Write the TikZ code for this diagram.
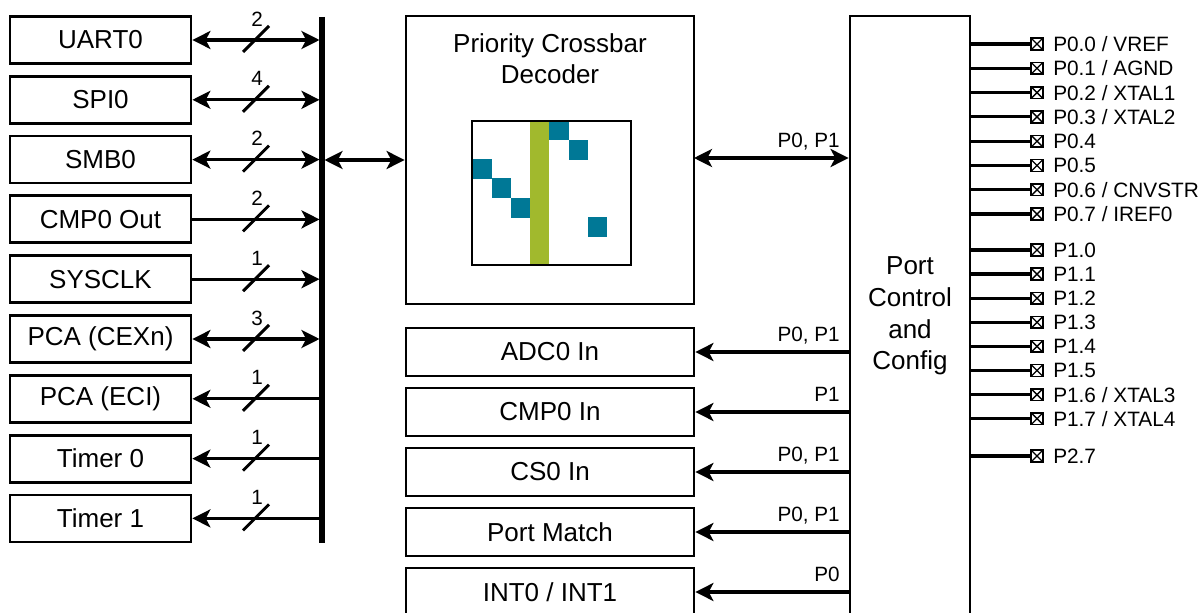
\documentclass[tikz,border=0pt]{standalone}
\usepackage{fontspec}
\setmainfont{Liberation Sans}
\usetikzlibrary{arrows.meta}
\definecolor{xbteal}{RGB}{0,120,150}
\definecolor{xbgreen}{RGB}{161,185,45}
\begin{document}
\begin{tikzpicture}[x=0.75pt,y=-0.75pt,
  >={Stealth[length=13.5pt,width=13.5pt,inset=3.5pt]},
  blk/.style={draw,line width=2.1pt,minimum width=135.75pt,minimum height=35.25pt,inner sep=0pt,
    font=\fontsize{19.5}{23}\selectfont},
  wblk/.style={blk,minimum width=216pt,minimum height=36pt},
  wire/.style={line width=2.4pt},
  small/.style={font=\fontsize{15.5}{18}\selectfont,inner sep=0pt},
  pinbox/.style={draw,line width=1.2pt,minimum size=8.8pt,inner sep=0pt,
    path picture={\draw[line width=1pt] (path picture bounding box.north west) -- (path picture bounding box.south east)
      (path picture bounding box.north east) -- (path picture bounding box.south west);}},
  pinlbl/.style={font=\fontsize{15.6}{18}\selectfont,inner sep=0pt,anchor=west}]
\useasboundingbox (0,0) rectangle (1204,613);
\clip (0,0) rectangle (1204,613);

% left peripheral blocks
\node[blk] (uart) at (100.5,40) {UART0};
\node[blk] (spi)  at (100.5,99.8) {SPI0};
\node[blk] (smb)  at (100.5,159.6) {SMB0};
\node[blk] (cmpo) at (100.5,219.4) {CMP0 Out};
\node[blk] (sysclk) at (100.5,279.2) {SYSCLK};
\node[blk] (cexn) at (100.5,339) {PCA (CEXn)};
\node[blk] (eci)  at (100.5,398.8) {PCA (ECI)};
\node[blk] (tmr0) at (100.5,458.6) {Timer 0};
\node[blk] (tmr1) at (100.5,518.4) {Timer 1};

% bus
\coordinate (bustop) at (322,17);
\coordinate (busbot) at (322,543);
\coordinate (busL) at (319.5,0);
\coordinate (busR) at (324.5,0);
\draw[line width=4.5pt] (bustop) -- (busbot);

\draw[wire,<->] (uart.east) -- (uart.east -| busL);
\draw[wire,<->] (spi.east) -- (spi.east -| busL);
\draw[wire,<->] (smb.east) -- (smb.east -| busL);
\draw[wire,->] (cmpo.east) -- (cmpo.east -| busL);
\draw[wire,->] (sysclk.east) -- (sysclk.east -| busL);
\draw[wire,<->] (cexn.east) -- (cexn.east -| busL);
\draw[wire,<-] (eci.east) -- (eci.east -| busL);
\draw[wire,<-] (tmr0.east) -- (tmr0.east -| busL);
\draw[wire,<-] (tmr1.east) -- (tmr1.east -| busL);

% bus-width marks
\foreach \yy/\w in {40/2,99.8/4,159.6/2,219.4/2,279.2/1,339/3,398.8/1,458.6/1,518.4/1}{
  \draw[line width=2.2pt] (243,\yy+12) -- (269,\yy-14);
  \node[small] at (257,\yy-21) {\w};
}

% crossbar
\node[draw,line width=2.1pt,minimum width=216pt,minimum height=216pt,inner sep=0pt] (xbar) at (550,160) {};
\node[font=\fontsize{19.5}{23.25}\selectfont,align=center,inner sep=0pt] (xbart) at (550,58.5) {Priority Crossbar\\Decoder};
\fill[xbgreen] (529.5,121) rectangle (549,265);
\fill[xbteal] (549,121) rectangle (568.5,140.5);
\fill[xbteal] (568.5,140.5) rectangle (588,160);
\fill[xbteal] (472,159.5) rectangle (491.5,179);
\fill[xbteal] (491.5,178.5) rectangle (511,198);
\fill[xbteal] (510.5,198) rectangle (529.5,218);
\fill[xbteal] (587.5,217) rectangle (607,237);
\draw[line width=1.6pt] (472,121) rectangle (631,265);

\draw[wire,<->] (xbar.west -| busR) -- (xbar.west);

% port control
\node[draw,line width=2.1pt,minimum width=90pt,minimum height=456pt,inner sep=0pt] (port) at (910,320) {};
\node[font=\fontsize{19.5}{23.8}\selectfont,align=center,inner sep=0pt] (portt) at (910,316) {Port\\Control\\and\\Config};

\coordinate (xp) at (694,158);
\draw[wire,<->] (xp) -- (xp -| port.west);
\node[small,anchor=base east] (lxp) at (840,148) {P0, P1};

% lower blocks
\node[wblk] (adc) at (550,352) {ADC0 In};
\node[wblk] (cmpi) at (550,412) {CMP0 In};
\node[wblk] (cs) at (550,472) {CS0 In};
\node[wblk] (pm) at (550,532) {Port Match};
\node[wblk] (intx) at (550,592) {INT0 / INT1};

\draw[wire,->] (adc.east -| port.west) -- (adc.east);
\draw[wire,->] (cmpi.east -| port.west) -- (cmpi.east);
\draw[wire,->] (cs.east -| port.west) -- (cs.east);
\draw[wire,->] (pm.east -| port.west) -- (pm.east);
\draw[wire,->] (intx.east -| port.west) -- (intx.east);
\node[small,anchor=base east] (ladc) at (840,341) {P0, P1};
\node[small,anchor=base east] (lcmpi) at (840,401) {P1};
\node[small,anchor=base east] (lcs) at (840,461) {P0, P1};
\node[small,anchor=base east] (lpm) at (840,521) {P0, P1};
\node[small,anchor=base east] (lint) at (840,581) {P0};

% pins
\foreach \i/\yy/\t in {0/44/{P0.0 / VREF},1/68.3/{P0.1 / AGND},2/92.6/{P0.2 / XTAL1},3/116.9/{P0.3 / XTAL2},
  4/141.2/{P0.4},5/165.5/{P0.5},6/189.8/{P0.6 / CNVSTR},7/214.1/{P0.7 / IREF0},
  8/250/{P1.0},9/274.1/{P1.1},10/298.2/{P1.2},11/322.3/{P1.3},12/346.4/{P1.4},13/370.5/{P1.5},
  14/394.6/{P1.6 / XTAL3},15/418.7/{P1.7 / XTAL4},16/456/{P2.7}}{
  \node[pinbox] (pin\i) at (1037,\yy) {};
  \draw[wire] (pin\i.west -| port.east) -- (pin\i.west);
  \node[pinlbl] (pinl\i) at (1053,\yy) {\t};
}
\end{tikzpicture}
\end{document}
